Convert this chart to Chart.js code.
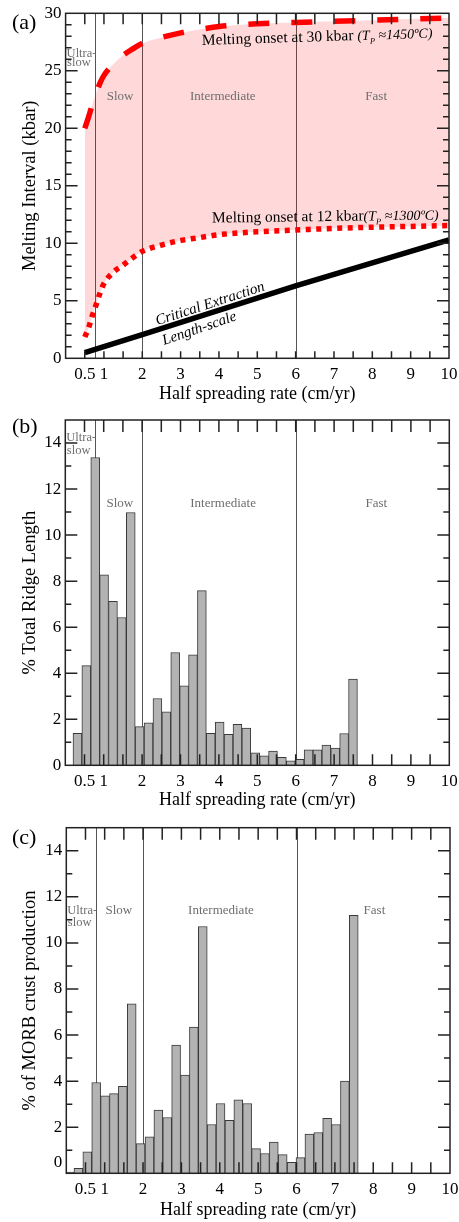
<!DOCTYPE html>
<html>
<head>
<meta charset="utf-8">
<script src="https://cdn.jsdelivr.net/npm/chart.js@4.4.1/dist/chart.umd.min.js"></script>
<style>
  html, body { margin: 0; padding: 0; background: #fff; }
  canvas { display: block; }
</style>
</head>
<body>
<canvas id="chartA" width="459" height="405"></canvas>
<canvas id="chartB" width="459" height="407"></canvas>
<canvas id="chartC" width="459" height="410"></canvas>
<script>
// (a) melting interval vs half spreading rate
const rateA = [0.5, 0.6, 0.7, 0.8, 0.9, 1, 1.25, 1.5, 1.75, 2, 2.5, 3, 3.5, 4, 5, 6, 7, 8, 9, 10];
const onset30 = [20.0, 21.0, 22.1, 23.1, 23.95, 24.6, 25.6, 26.35, 26.9, 27.4, 27.9, 28.3, 28.6, 28.85, 29.1, 29.2, 29.3, 29.4, 29.5, 29.6];
const onset12 = [1.85, 2.65, 3.75, 4.7, 5.7, 6.5, 7.5, 8.1, 8.75, 9.3, 9.85, 10.25, 10.5, 10.75, 11.0, 11.15, 11.3, 11.4, 11.47, 11.55];
const rateCrit = [0.5, 2, 6, 10];
const critLength = [0.5, 2.05, 6.3, 10.3];

// (b) % total ridge length per rate bin
const binCenter = [0.316, 0.547, 0.779, 1.010, 1.242, 1.473, 1.705, 1.936, 2.168, 2.399, 2.631, 2.862, 3.094, 3.325, 3.557, 3.788,
                   4.020, 4.251, 4.483, 4.714, 4.946, 5.177, 5.409, 5.640, 5.872, 6.103, 6.335, 6.566, 6.798, 7.029, 7.261, 7.492];
const ridgeLength = [1.39, 4.33, 13.37, 8.27, 7.12, 6.42, 10.98, 1.68, 1.84, 2.9, 2.32, 4.9, 3.45, 4.8, 7.59, 1.39,
                     1.88, 1.35, 1.78, 1.62, 0.54, 0.41, 0.62, 0.35, 0.19, 0.26, 0.67, 0.67, 0.88, 0.75, 1.38, 3.75];

// (c) % of MORB crust production per rate bin
const crustBinCenter = [0.085, 0.316, 0.547, 0.779, 1.010, 1.242, 1.473, 1.705, 1.936, 2.168, 2.399, 2.631, 2.862, 3.094, 3.325, 3.557, 3.788,
                        4.020, 4.251, 4.483, 4.714, 4.946, 5.177, 5.409, 5.640, 5.872, 6.103, 6.335, 6.566, 6.798, 7.029, 7.261, 7.492];
const morbCrust = [0.05, 0.22, 0.93, 3.94, 3.36, 3.46, 3.78, 7.36, 1.29, 1.58, 2.74, 2.42, 5.57, 4.26, 6.35, 10.71, 2.12,
                   3.03, 2.30, 3.19, 3.03, 1.07, 0.86, 1.36, 0.81, 0.48, 0.68, 1.70, 1.77, 2.39, 2.12, 4.0, 11.2];

// axes
const rateTicks = [0.5, 1, 2, 3, 4, 5, 6, 7, 8, 9, 10];
const meltTicks = [0, 5, 10, 15, 20, 25, 30];
const pctTicks = [0, 2, 4, 6, 8, 10, 12, 14];
const regimeBounds = [0.77, 2, 6];

const serif = "'Liberation Serif', 'Times New Roman', serif";
const grey = '#6e6e6e';

function pts(xs, ys) {
  return xs.map((x, i) => ({ x: x, y: ys[i] }));
}

function richText(ctx, parts, x, y, angle) {
  ctx.save();
  ctx.translate(x, y);
  ctx.rotate(angle * Math.PI / 180);
  ctx.textAlign = 'left';
  ctx.textBaseline = 'alphabetic';
  let cx = 0;
  parts.forEach(p => {
    ctx.font = p.font;
    ctx.fillText(p.t, cx, p.dy || 0);
    cx += ctx.measureText(p.t).width;
  });
  ctx.restore();
}

function rotText(ctx, t, x, y, angle, font) {
  ctx.save();
  ctx.translate(x, y);
  ctx.rotate(angle * Math.PI / 180);
  ctx.font = font;
  ctx.textAlign = 'center';
  ctx.textBaseline = 'middle';
  ctx.fillText(t, 0, 0);
  ctx.restore();
}

// regime lines, inner tick marks, frame and labels
const panelDecor = {
  id: 'panelDecor',
  beforeDatasetsDraw(chart, args, o) {
    const { ctx, chartArea: a } = chart;
    const x = chart.scales.x;
    ctx.save();
    ctx.strokeStyle = '#555';
    ctx.lineWidth = 1;
    regimeBounds.forEach(v => {
      const px = Math.round(x.getPixelForValue(v)) + 0.5;
      ctx.beginPath();
      ctx.moveTo(px, a.top);
      ctx.lineTo(px, a.bottom);
      ctx.stroke();
    });
    ctx.restore();
  },
  afterDatasetsDraw(chart, args, o) {
    const { ctx, chartArea: a } = chart;
    const x = chart.scales.x, y = chart.scales.y;
    ctx.save();
    ctx.strokeStyle = '#222';
    ctx.lineWidth = 1.5;
    ctx.beginPath();
    for (let v = 0.5; v < 10; v += 0.5) {
      const px = x.getPixelForValue(v);
      ctx.moveTo(px, a.top);
      ctx.lineTo(px, a.top + o.topTick);
      ctx.moveTo(px, a.bottom);
      ctx.lineTo(px, a.bottom - o.bottomTick);
    }
    for (let v = 1; v < y.max; v += 1) {
      const py = y.getPixelForValue(v);
      const len = v % o.majorStep === 0 ? 12 : 6;
      ctx.moveTo(a.left, py);
      ctx.lineTo(a.left + len, py);
      ctx.moveTo(a.right, py);
      ctx.lineTo(a.right - len, py);
    }
    ctx.stroke();
    ctx.strokeRect(a.left, a.top, a.right - a.left, a.bottom - a.top);

    // panel letter
    ctx.fillStyle = '#000';
    ctx.font = '22px ' + serif;
    ctx.textAlign = 'left';
    ctx.textBaseline = 'middle';
    ctx.fillText(o.label, 12, o.labelY);

    // regime names
    ctx.fillStyle = grey;
    ctx.font = '12.5px ' + serif;
    ctx.fillText('Ultra-', a.left + 1, y.getPixelForValue(o.ultraY[0]));
    ctx.fillText('slow', a.left + 1.5, y.getPixelForValue(o.ultraY[1]));
    ctx.font = '13px ' + serif;
    ctx.textAlign = 'center';
    o.regimes.forEach(r => {
      ctx.fillText(r[0], x.getPixelForValue(r[1]), y.getPixelForValue(r[2]));
    });

    if (o.zeroShift) {
      ctx.fillStyle = '#000';
      ctx.font = '17px ' + serif;
      ctx.textAlign = 'right';
      ctx.fillText('0', a.left - 4, y.getPixelForValue(0) - o.zeroShift);
    }

    if (o.curveNotes) {
      ctx.fillStyle = '#000';
      const it = 'italic 14px ' + serif, rm = '15.5px ' + serif, sub = 'italic 8.5px ' + serif;
      richText(ctx, [
        { t: 'Melting onset at 30 kbar ', font: rm },
        { t: '(T', font: it },
        { t: 'P', font: sub, dy: 4 },
        { t: ' \u22481450\u00baC)', font: it }
      ], x.getPixelForValue(3.56), y.getPixelForValue(27.25), -1.8);
      richText(ctx, [
        { t: 'Melting onset at 12 kbar', font: rm },
        { t: '(T', font: it },
        { t: 'P', font: sub, dy: 4 },
        { t: ' \u22481300\u00baC)', font: it }
      ], x.getPixelForValue(3.82), y.getPixelForValue(11.8), -0.8);
      const it15 = 'italic 15px ' + serif;
      rotText(ctx, 'Critical Extraction', x.getPixelForValue(3.77), y.getPixelForValue(4.72), -18, it15);
      rotText(ctx, 'Length-scale', x.getPixelForValue(3.49), y.getPixelForValue(2.57), -19, it15);
    }
    ctx.restore();
  }
};

function makeOptions(p) {
  const yTicks = { padding: 4, color: '#000', font: { family: serif, size: 17 },
                   callback: v => (p.hideZero && v === 0) ? '' : String(v) };
  return {
    responsive: false,
    animation: false,
    devicePixelRatio: 1,
    layout: { padding: { top: p.padTop, right: p.padRight, left: 0, bottom: 0 } },
    plugins: { legend: { display: false }, tooltip: { enabled: false }, panelDecor: p.decor },
    scales: {
      x: {
        type: 'linear', min: 0, max: 10, offset: false,
        grid: { display: false, drawTicks: false, offset: false },
        border: { display: false },
        afterBuildTicks: s => { s.ticks = rateTicks.map(v => ({ value: v })); },
        afterFit: s => { s.height = p.xHeight; s.paddingLeft = 0; s.paddingRight = 0; },
        ticks: { autoSkip: false, maxRotation: 0, padding: 6, color: '#000',
                 font: { family: serif, size: 17 }, callback: v => String(v) },
        title: { display: true, text: 'Half spreading rate (cm/yr)', color: '#000',
                 font: { family: serif, size: 18 }, padding: { top: 0, bottom: p.xTitlePad } }
      },
      y: {
        type: 'linear', min: 0, max: p.yMax,
        grid: { display: false, drawTicks: false },
        border: { display: false },
        afterBuildTicks: s => { s.ticks = p.yTickValues.map(v => ({ value: v })); },
        afterFit: s => { s.width = p.yWidth; s.paddingTop = 0; s.paddingBottom = 0; },
        ticks: yTicks,
        title: { display: true, text: p.yTitle, color: '#000',
                 font: { family: serif, size: 18.5 }, padding: { top: 19.5, bottom: 0 } }
      }
    }
  };
}

new Chart(document.getElementById('chartA'), {
  type: 'line',
  data: {
    datasets: [
      { data: pts(rateA, onset30), borderColor: '#ff0000', borderWidth: 5.5, borderDash: [21, 22],
        pointRadius: 0, cubicInterpolationMode: 'monotone', fill: '+1', backgroundColor: 'rgba(255,0,0,0.15)' },
      { data: pts(rateA, onset12), borderColor: '#ff0000', borderWidth: 5.5, borderDash: [5, 5.5],
        pointRadius: 0, cubicInterpolationMode: 'monotone', fill: false },
      { data: pts(rateCrit, critLength), borderColor: '#000', borderWidth: 5.5, pointRadius: 0, fill: false }
    ]
  },
  options: makeOptions({
    padTop: 13.3, padRight: 10, xHeight: 46.7, yWidth: 65.6, xTitlePad: 0,
    yMax: 30, yTickValues: meltTicks, yTitle: 'Melting Interval (kbar)',
    decor: { label: '(a)', labelY: 23.5, topTick: 11, bottomTick: 7, majorStep: 5,
             ultraY: [26.5, 25.7],
             regimes: [['Slow', 1.42, 22.8], ['Intermediate', 4.1, 22.8], ['Fast', 8.1, 22.8]],
             curveNotes: true }
  }),
  plugins: [panelDecor]
});

const barStyle = { backgroundColor: '#b3b3b3', borderColor: '#3a3a3a', borderWidth: 1,
                   barPercentage: 1, categoryPercentage: 1 };

new Chart(document.getElementById('chartB'), {
  type: 'bar',
  data: { datasets: [Object.assign({ data: pts(binCenter, ridgeLength) }, barStyle)] },
  options: makeOptions({
    padTop: 15, padRight: 9.7, xHeight: 46.7, yWidth: 65.3, xTitlePad: 1,
    yMax: 15, yTickValues: pctTicks, yTitle: '% Total Ridge Length',
    decor: { label: '(b)', labelY: 22, topTick: 12, bottomTick: 11, majorStep: 2,
             ultraY: [14.24, 13.68],
             regimes: [['Slow', 1.42, 11.37], ['Intermediate', 4.11, 11.37], ['Fast', 8.1, 11.37]] }
  }),
  plugins: [panelDecor]
});

new Chart(document.getElementById('chartC'), {
  type: 'bar',
  data: { datasets: [Object.assign({ data: pts(crustBinCenter, morbCrust) }, barStyle)] },
  options: makeOptions({
    padTop: 15.7, padRight: 9, xHeight: 48.7, yWidth: 66.3, xTitlePad: 1, hideZero: true,
    yMax: 15, yTickValues: pctTicks, yTitle: '% of MORB crust production',
    decor: { label: '(c)', labelY: 26, topTick: 12, bottomTick: 11, majorStep: 2,
             ultraY: [11.4, 10.87], zeroShift: 10.5,
             regimes: [['Slow', 1.37, 11.4], ['Intermediate', 4.03, 11.4], ['Fast', 8.03, 11.4]] }
  }),
  plugins: [panelDecor]
});
</script>
</body>
</html>
